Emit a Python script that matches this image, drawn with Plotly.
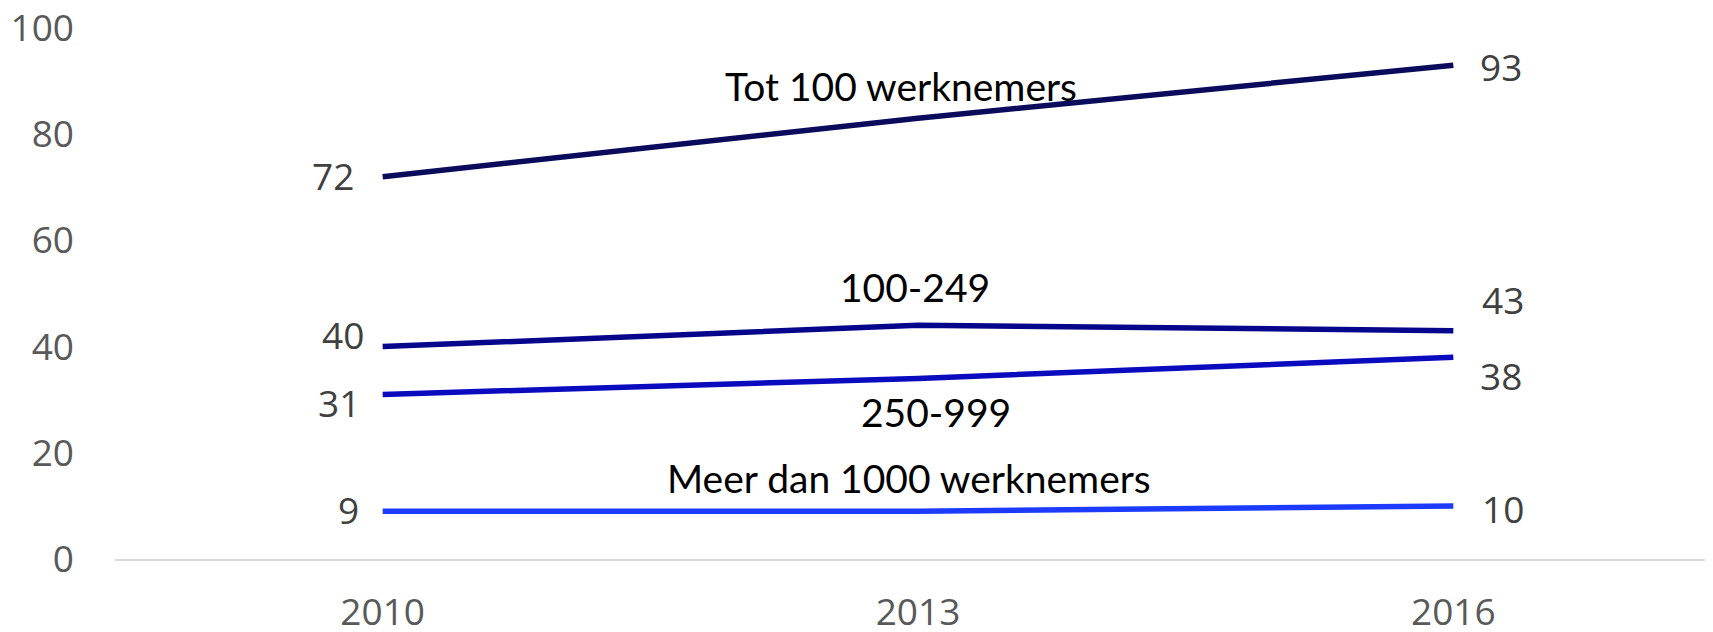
import plotly.graph_objects as go

years = ["2010", "2013", "2016"]
series_names = ["Tot 100 werknemers", "100-249", "250-999", "Meer dan 1000 werknemers"]
tot100 = [72, 83, 93]
s100_249 = [40, 44, 43]
s250_999 = [31, 34, 38]
meer1000 = [9, 9, 10]
y_ticks = [0, 20, 40, 60, 80, 100]

values = [tot100, s100_249, s250_999, meer1000]
colors = ["#0B0B5C", "#06068C", "#0A0ABE", "#1C3BFF"]

# label offsets (pixels): left label shift, right label shift, name label shift
left_style = [(-27, 1), (-17, 12), (-21, -8), (-22, 2)]
right_style = [(25, -1), (27, 31), (25, -18), (27, -3)]
name_style = [(-17, 32), (-3, 38), (18, -34), (-9, 33)]

fig = go.Figure()
for name, vals, col in zip(series_names, values, colors):
    fig.add_trace(go.Scatter(x=years, y=vals, mode="lines", name=name,
                             line=dict(color=col, width=5.5), showlegend=False))

# category axis positions for annotations are the category indices
first, mid, last = 0, 1, len(years) - 1

ann = []
for i, (name, vals) in enumerate(zip(series_names, values)):
    ann.append(dict(x=first, y=vals[0], text=str(vals[0]), xref="x", yref="y",
                    showarrow=False, xanchor="right", yanchor="middle",
                    xshift=left_style[i][0], yshift=left_style[i][1],
                    font=dict(family="Open Sans", size=37, color="#404040")))
    ann.append(dict(x=last, y=vals[-1], text=str(vals[-1]), xref="x", yref="y",
                    showarrow=False, xanchor="left", yanchor="middle",
                    xshift=right_style[i][0], yshift=right_style[i][1],
                    font=dict(family="Open Sans", size=37, color="#404040")))
    ann.append(dict(x=mid, y=vals[1], text=name, xref="x", yref="y",
                    showarrow=False, xanchor="center", yanchor="middle",
                    xshift=name_style[i][0], yshift=name_style[i][1],
                    font=dict(family="Lato", size=39, color="#000000")))

fig.update_layout(
    width=1713, height=632,
    margin=dict(l=107, r=0, t=20, b=81, autoexpand=False),
    paper_bgcolor="white", plot_bgcolor="white",
    annotations=ann,
    xaxis=dict(type="category", range=[-0.5, 2.5], showgrid=False, zeroline=False,
               showline=True, linecolor="#D9D9D9", linewidth=2, automargin=False,
               tickfont=dict(family="Open Sans", size=37, color="#595959"),
               ticks="", ticklabelstandoff=20, ticklabeloverflow="allow"),
    yaxis=dict(range=[0, 100], tickvals=y_ticks, showgrid=False, zeroline=False,
               showline=False, automargin=False,
               tickfont=dict(family="Open Sans", size=37, color="#595959"),
               ticks="", ticklabelstandoff=40, ticklabeloverflow="allow"),
)

fig.write_html("out.html")
